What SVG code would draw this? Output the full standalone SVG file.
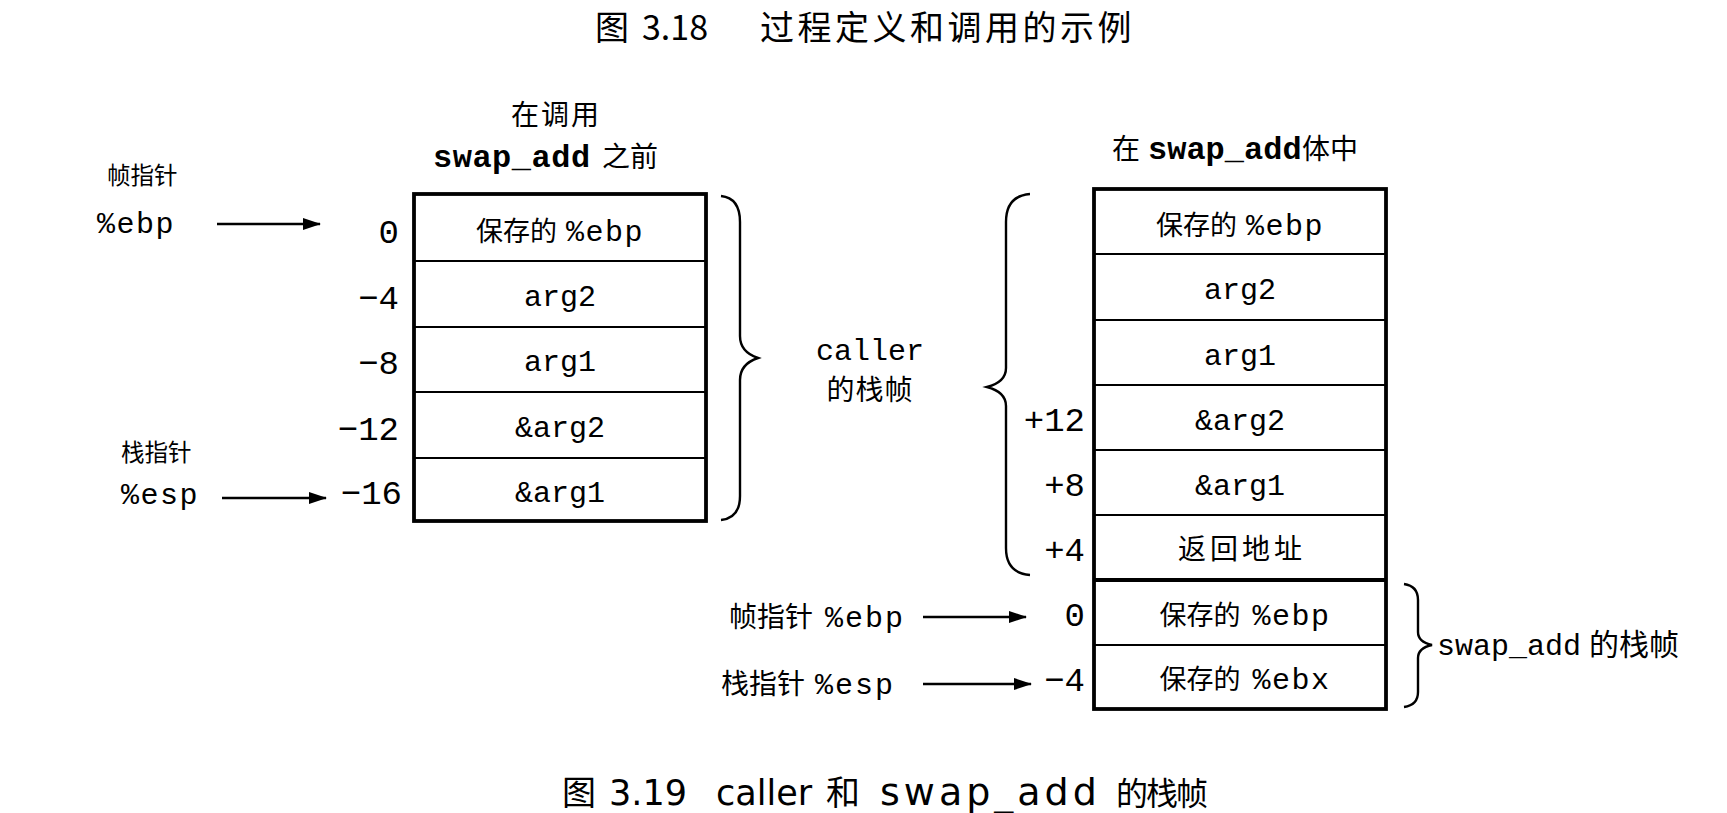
<svg xmlns="http://www.w3.org/2000/svg" width="1727" height="813" viewBox="0 0 1727 813">
<style>
.bg{fill:#fff}
.t{font-family:"Liberation Serif","Noto Sans CJK SC",serif;font-size:27px;fill:#000}
.tl{font-family:"Liberation Serif","Noto Sans CJK SC",serif;font-size:23.5px;fill:#000}
.t28{font-family:"Liberation Serif","Noto Sans CJK SC",serif;font-size:28px;fill:#000}
.m{font-family:"Liberation Mono","Noto Sans CJK SC",monospace;font-size:30px;fill:#000}
.off{font-family:"Liberation Mono",monospace;font-size:34px;fill:#000}
.mb{font-family:"Liberation Mono",monospace;font-weight:bold;font-size:32px}
.cap{font-family:"Noto Sans CJK SC",sans-serif;font-size:34px;fill:#000}
.capl{font-family:"DejaVu Sans","Noto Sans CJK SC",sans-serif}
.box{fill:none;stroke:#000;stroke-width:3.8}
.row{stroke:#000;stroke-width:1.8}
.br{fill:none;stroke:#000;stroke-width:2.4}
.ar{stroke:#000;stroke-width:2.5}
.mid{text-anchor:middle}
.end{text-anchor:end}
</style>
<defs>
<marker id="ah" markerWidth="18" markerHeight="14" refX="17" refY="7" orient="auto" markerUnits="userSpaceOnUse">
<path d="M0,1 L18,7 L0,13 Z" fill="#000"/>
</marker>
</defs>
<rect class="bg" x="0" y="0" width="1727" height="813"/>
<g id="title"><text class="cap" y="40"><tspan x="595">图</tspan><tspan x="642">3.18</tspan><tspan x="760" letter-spacing="3.5">过程定义和调用的示例</tspan></text></g>

<g id="left-header">
<text class="t28 mid" x="556" y="125" letter-spacing="2">在调用</text>
<text class="t28" x="433" y="167"><tspan class="mb" letter-spacing="0.5">swap_add</tspan><tspan x="602">之前</tspan></text>
</g>

<g id="left-labels">
<text class="tl" x="107" y="184">帧指针</text>
<text class="m" x="97" y="233" letter-spacing="1.5">%ebp</text>
<text class="tl" x="121" y="461">栈指针</text>
<text class="m" x="121" y="504" letter-spacing="1.5">%esp</text>
</g>

<g id="left-stack">
<rect class="box" x="414" y="194" width="292" height="327"/>
<line class="row" x1="414" y1="261" x2="706" y2="261"/>
<line class="row" x1="414" y1="327" x2="706" y2="327"/>
<line class="row" x1="414" y1="392" x2="706" y2="392"/>
<line class="row" x1="414" y1="458" x2="706" y2="458"/>
<text class="t mid" x="560" y="241">保存的<tspan class="m" dx="9" letter-spacing="1.5">%ebp</tspan></text>
<text class="m mid" x="560" y="306">arg2</text>
<text class="m mid" x="560" y="371">arg1</text>
<text class="m mid" x="560" y="437">&amp;arg2</text>
<text class="m mid" x="560" y="502">&amp;arg1</text>
<text class="off end" x="399" y="243">0</text>
<text class="off end" x="399" y="309">−4</text>
<text class="off end" x="399" y="374">−8</text>
<text class="off end" x="399" y="440">−12</text>
<text class="off end" x="402" y="504">−16</text>
</g>

<g id="caller-label">
<text class="m mid" x="870" y="360">caller</text>
<text class="t28 mid" x="870" y="400" letter-spacing="1">的栈帧</text>
</g>

<g id="right-header">
<text class="t28" x="1112" y="159">在<tspan class="mb" x="1148">swap_add</tspan><tspan x="1302">体中</tspan></text>
</g>

<g id="right-stack">
<rect class="box" x="1094" y="189" width="292" height="520"/>
<line class="row" x1="1094" y1="254" x2="1386" y2="254"/>
<line class="row" x1="1094" y1="320" x2="1386" y2="320"/>
<line class="row" x1="1094" y1="385" x2="1386" y2="385"/>
<line class="row" x1="1094" y1="450" x2="1386" y2="450"/>
<line class="row" x1="1094" y1="515" x2="1386" y2="515"/>
<line class="box" x1="1094" y1="580" x2="1386" y2="580"/>
<line class="row" x1="1094" y1="645" x2="1386" y2="645"/>
<text class="t mid" x="1240" y="235">保存的<tspan class="m" dx="9" letter-spacing="1.5">%ebp</tspan></text>
<text class="m mid" x="1240" y="299">arg2</text>
<text class="m mid" x="1240" y="365">arg1</text>
<text class="m mid" x="1240" y="430">&amp;arg2</text>
<text class="m mid" x="1240" y="495">&amp;arg1</text>
<text class="t28 mid" x="1242" y="559" letter-spacing="4">返回地址</text>
<text class="t mid" x="1245" y="625">保存的<tspan class="m" dx="12" letter-spacing="1.5">%ebp</tspan></text>
<text class="t mid" x="1245" y="689">保存的<tspan class="m" dx="12" letter-spacing="1.5">%ebx</tspan></text>
<text class="off end" x="1085" y="431">+12</text>
<text class="off end" x="1085" y="496">+8</text>
<text class="off end" x="1085" y="561">+4</text>
<text class="off end" x="1085" y="626">0</text>
<text class="off end" x="1085" y="691">−4</text>
</g>

<g id="right-labels">
<text class="t28" x="729" y="627">帧指针<tspan class="m" dx="12" letter-spacing="2">%ebp</tspan></text>
<text class="t28" x="721" y="694">栈指针<tspan class="m" dx="10" letter-spacing="2">%esp</tspan></text>
<text class="t28" x="1437" y="655"><tspan class="m">swap_add</tspan><tspan dx="8" style="font-size:30px">的栈帧</tspan></text>
</g>

<g id="connectors">
<line class="ar" x1="217" y1="224" x2="320" y2="224" marker-end="url(#ah)"/>
<line class="ar" x1="222" y1="498" x2="326" y2="498" marker-end="url(#ah)"/>
<line class="ar" x1="923" y1="617" x2="1026" y2="617" marker-end="url(#ah)"/>
<line class="ar" x1="923" y1="684" x2="1031" y2="684" marker-end="url(#ah)"/>
<path class="br" d="M721,196 Q740,198 740,222 L740,336 Q740,352 758,358 Q740,364 740,380 L740,496 Q740,518 721,520"/>
<path class="br" d="M1030,194 Q1006,196 1006,222 L1006,368 Q1006,382 987,387 Q1006,392 1006,406 L1006,548 Q1006,573 1030,575"/>
<path class="br" d="M1404,584 Q1418,586 1418,600 L1418,632 Q1418,642 1432,645 Q1418,648 1418,658 L1418,692 Q1418,705 1404,707"/>
</g>

<g id="caption"><text class="cap" y="805"><tspan x="562">图</tspan><tspan class="capl" x="609" style="font-size:35px">3.19</tspan><tspan class="capl" x="716" style="font-size:35px">caller</tspan><tspan x="826">和</tspan><tspan class="capl" x="880" style="font-size:38px" letter-spacing="4">swap_add</tspan><tspan x="1116" style="font-size:32px" letter-spacing="-2">的栈帧</tspan></text></g>
</svg>
